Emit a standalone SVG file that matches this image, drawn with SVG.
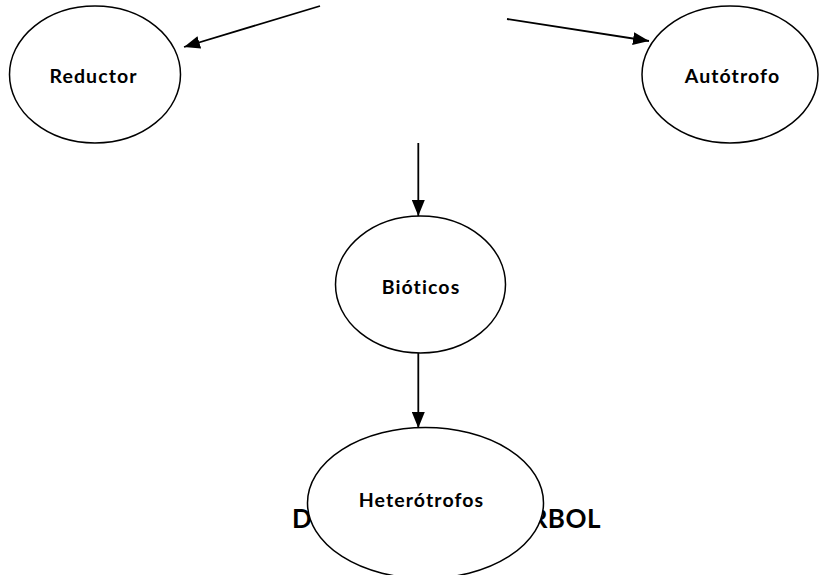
<svg xmlns="http://www.w3.org/2000/svg" width="819" height="575" viewBox="0 0 819 575">
<style>
.node ellipse{fill:#fff;stroke:#000;stroke-width:1.5}
.lbl{font-family:Lato,"Open Sans","Liberation Sans",sans-serif;font-weight:bold;font-size:19.5px;letter-spacing:1.1px;fill:#000;text-anchor:middle}
.title{font-family:Lato,"Open Sans","Liberation Sans",sans-serif;font-weight:bold;font-size:26px;letter-spacing:0.5px;fill:#000}
.edge{stroke:#000;stroke-width:1.8;fill:none;marker-end:url(#ah)}
</style>
<defs>
<marker id="ah" viewBox="0 0 10 10" refX="10" refY="5" markerWidth="16" markerHeight="13" markerUnits="userSpaceOnUse" orient="auto" preserveAspectRatio="none">
<path d="M0,0 L10,5 L0,10 z" fill="#000"/>
</marker>
</defs>
<rect width="819" height="575" fill="#fff"/>
<g id="title">
<text class="title" x="292" y="528">D</text>
<text class="title" x="601" y="528" text-anchor="end">RBOL</text>
</g>
<g id="node-reductor" class="node">
<ellipse cx="95" cy="74.5" rx="85.5" ry="68.5"/>
<text class="lbl" x="93.5" y="83">Reductor</text>
</g>
<g id="node-autotrofo" class="node">
<ellipse cx="730" cy="74.5" rx="88" ry="68.5"/>
<text class="lbl" x="732.5" y="83">Autótrofo</text>
</g>
<g id="node-bioticos" class="node">
<ellipse cx="420.5" cy="284.5" rx="85" ry="68.5"/>
<text class="lbl" x="421" y="293.5">Bióticos</text>
</g>
<g id="node-heterotrofos" class="node">
<ellipse cx="425.5" cy="503" rx="118" ry="75.5"/>
<text class="lbl" x="421.5" y="507">Heterótrofos</text>
</g>
<g id="connectors">
<line class="edge" x1="320" y1="6" x2="184" y2="47"/>
<line class="edge" x1="507" y1="19" x2="649" y2="41"/>
<line class="edge" x1="418.3" y1="143" x2="418.3" y2="216"/>
<line class="edge" x1="418.3" y1="353" x2="418.3" y2="428"/>
</g>
</svg>
